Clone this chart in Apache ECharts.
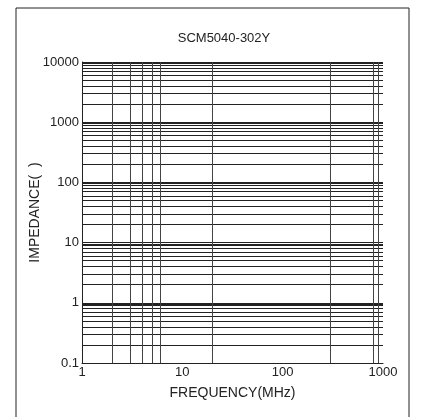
<!DOCTYPE html>
<html>
<head>
<meta charset="utf-8">
<script src="https://cdn.jsdelivr.net/npm/echarts@6/dist/echarts.min.js"></script>
<style>
html,body{margin:0;padding:0;background:#fff;}
#chart{width:425px;height:417px;}
</style>
</head>
<body>
<div id="chart"></div>
<script>
const titleText = 'SCM5040-302Y';
const xName = 'FREQUENCY(MHz)';
const yName = 'IMPEDANCE(  )';
const xRange = [1, 1000];
const yRange = [0.1, 10000];
const verticalLines = [2, 3, 4, 5, 6, 20, 300, 800, 900];
const decades = [0.1, 1, 10, 100, 1000, 10000];
const minorFactors = [2, 3, 4, 5, 6, 7, 8, 9, 9.5];

const hLines = [];
decades.forEach(function (d, i) {
  hLines.push(d);
  if (i < decades.length - 1) {
    minorFactors.forEach(function (f) { hLines.push(+(d * f).toPrecision(6)); });
  }
});

function plain(v) { return String(+v.toPrecision(6)); }

const chart = echarts.init(document.getElementById('chart'));
const font = 'Liberation Sans, Arial, sans-serif';
chart.setOption({
  animation: false,
  backgroundColor: '#fff',
  graphic: [{
    type: 'rect',
    shape: { x: 16, y: 8, width: 393, height: 420 },
    style: { fill: 'none', stroke: '#222', lineWidth: 1 },
    silent: true
  }],
  title: {
    text: titleText,
    left: 219, top: 27, textAlign: 'center',
    textStyle: { fontFamily: font, fontSize: 13, fontWeight: 'normal', color: '#222' }
  },
  grid: { left: 82, right: 42, top: 62, bottom: 54 },
  xAxis: {
    type: 'log', logBase: 10, min: xRange[0], max: xRange[1],
    name: xName, nameLocation: 'middle', nameGap: 23, nameMoveOverlap: false,
    nameTextStyle: { fontFamily: font, fontSize: 14, color: '#222' },
    axisLine: { show: true, lineStyle: { color: '#222', width: 1 } },
    axisTick: { show: false },
    axisLabel: { fontFamily: font, fontSize: 13, color: '#222', margin: 3, formatter: plain },
    splitLine: { show: false }, minorSplitLine: { show: false }
  },
  yAxis: {
    type: 'log', logBase: 10, min: yRange[0], max: yRange[1],
    name: yName, nameLocation: 'middle', nameGap: 40, nameMoveOverlap: false,
    nameTextStyle: { fontFamily: font, fontSize: 14, color: '#222' },
    axisLine: { show: true, lineStyle: { color: '#222', width: 1 } },
    axisTick: { show: false },
    axisLabel: { fontFamily: font, fontSize: 13, color: '#222', margin: 3, formatter: plain },
    splitLine: { show: false }, minorSplitLine: { show: false }
  },
  series: [{
    type: 'line',
    data: [],
    silent: true,
    markLine: {
      silent: true, symbol: 'none', animation: false,
      label: { show: false },
      lineStyle: { color: '#222', width: 1, type: 'solid' },
      data: hLines.map(function (v) { return { yAxis: v }; })
    }
  }, {
    type: 'line',
    data: [],
    silent: true,
    markLine: {
      silent: true, symbol: 'none', animation: false,
      label: { show: false },
      lineStyle: { color: '#444', width: 1, type: 'solid' },
      data: verticalLines.map(function (v) { return { xAxis: v }; })
    }
  }]
});
</script>
</body>
</html>
